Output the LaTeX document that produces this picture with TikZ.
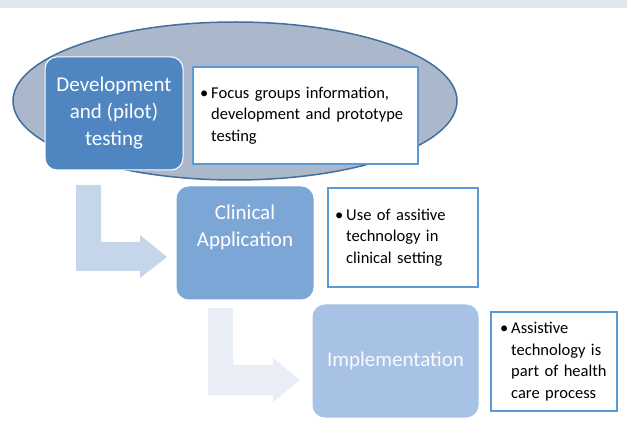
\documentclass[tikz,border=0pt]{standalone}
\usepackage{fontspec}
\setmainfont{Carlito}
\usetikzlibrary{positioning}

\definecolor{topband}{HTML}{DEE6F0}
\definecolor{ovalfill}{HTML}{ABB7CA}
\definecolor{ovalline}{HTML}{41709E}
\definecolor{stageA}{HTML}{4F85C0}
\definecolor{stageB}{HTML}{7BA6D6}
\definecolor{stageC}{HTML}{A7C2E4}
\definecolor{bendA}{HTML}{C5D5EA}
\definecolor{bendB}{HTML}{E8EDF6}
\definecolor{noteline}{HTML}{5B9BD5}

\tikzset{
  stage/.style={rounded corners=12pt, draw=white, line width=1pt, text=white,
    align=center, inner sep=0pt, font=\fontsize{21}{27}\selectfont},
  note/.style={draw=noteline, line width=2.5pt, fill=white, align=left,
    inner ysep=0pt, font=\fontsize{16.5}{21.5}\selectfont},
}

\newcommand{\pointlist}[1]{\begin{tabular}{@{}l@{\hspace{3pt}}l@{}}\textbullet & #1\end{tabular}}

\begin{document}
\begin{tikzpicture}[x=1pt, y=-1pt]
\useasboundingbox (0,0) rectangle (627,422);

\def\xa{114};
\def\xb{245};
\def\xc{395.5};

\def\ya{113.5};
\def\yb{243};
\def\yc{361};

\fill[topband] (0,0) rectangle (627,8);
\draw[ovalline, line width=1.5pt, fill=ovalfill] (235,101) ellipse [x radius=222pt, y radius=79pt];

\fill[bendA] (76,185) -- (101,185) -- (101,242) -- (140,242) -- (140,235) -- (167,257)
  -- (140,278) -- (140,271) -- (76,271) -- cycle;
\fill[bendB] (208,308) -- (233,308) -- (233,365) -- (273,365) -- (273,358) -- (300,380)
  -- (273,402) -- (273,395) -- (208,395) -- cycle;

\node(dev) [stage, fill=stageA, minimum width=138pt, minimum height=113pt] at (\xa, \ya)
  {Development\\and (pilot)\\testing};
\node(app) [stage, fill=stageB, draw=stageB, minimum width=136pt, minimum height=112pt] at (\xb, \yb) {};
\node(apptext) [text=white, align=center, font=\fontsize{21}{27}\selectfont] at (\xb, 227)
  {Clinical\\Application};
\node(impl) [stage, fill=stageC, draw=stageC, text=white!92!stageC, minimum width=165pt, minimum height=112pt]
  at (\xc, \yc) {Implementation};

\node(devnote) [note, inner xsep=7pt, text width=211pt, minimum width=225pt, minimum height=97pt]
  at (305.5, 115.5)
  {\pointlist{Focus groups information,\\ & development and prototype\\ & testing}};
\node(appnote) [note, inner xsep=7pt, text width=136pt, minimum width=150pt, minimum height=99pt]
  at (403, 237.5)
  {\pointlist{Use of assitive\\ & technology in\\ & clinical setting}};
\node(implnote) [note, inner xsep=9pt, text width=108pt, minimum width=126pt, minimum height=99pt]
  at (554, 361.5)
  {\pointlist{Assistive\\ & technology is\\ & part of health\\ & care process}};
\end{tikzpicture}
\end{document}
